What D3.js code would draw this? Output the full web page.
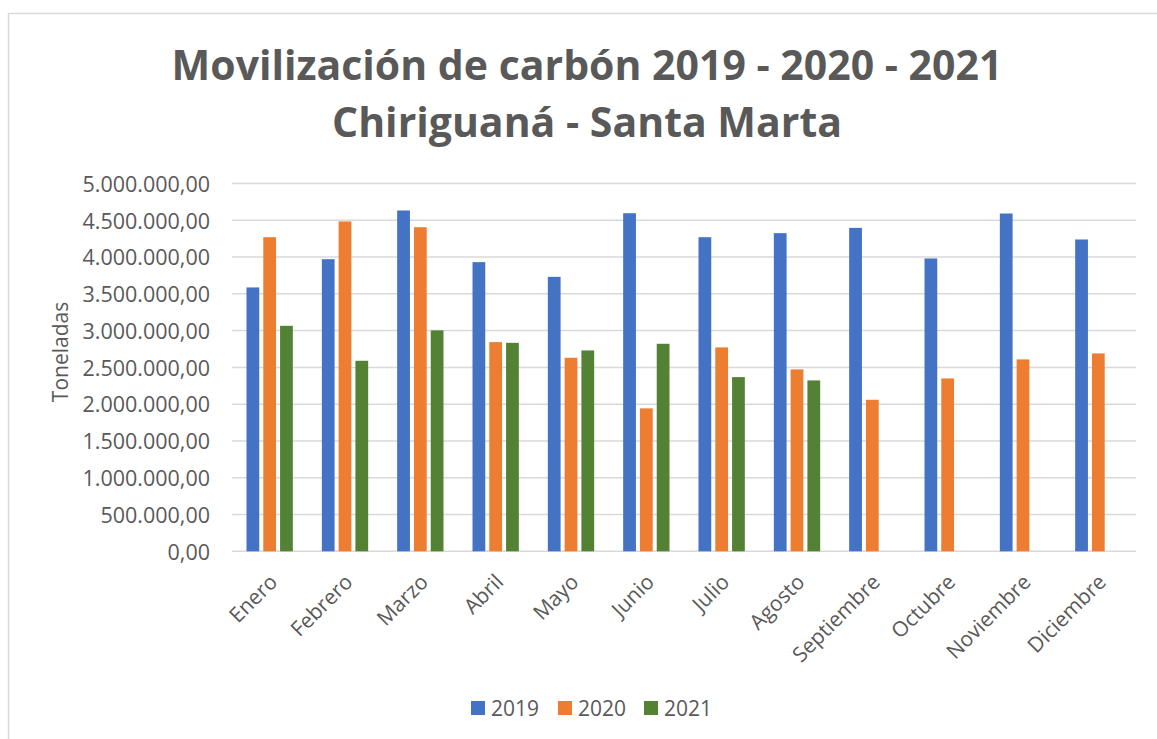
<!DOCTYPE html>
<html><head><meta charset="utf-8">
<script src="https://cdn.jsdelivr.net/npm/d3@7"></script>
<style>
html,body{margin:0;padding:0;background:#fff;}
svg text{font-family:"Open Sans",sans-serif;fill:#595959;}
</style></head>
<body>
<svg id="c" width="1157" height="739"></svg>
<script>
const months = ["Enero","Febrero","Marzo","Abril","Mayo","Junio","Julio","Agosto","Septiembre","Octubre","Noviembre","Diciembre"];
const seriesNames = ["2019","2020","2021"];
const v2019 = [3587000,3971000,4633000,3931000,3731000,4596000,4270000,4325000,4397000,3981000,4592000,4239000];
const v2020 = [4270000,4484000,4406000,2844000,2631000,1943000,2772000,2473000,2060000,2350000,2609000,2690000];
const v2021 = [3065000,2590000,3003000,2834000,2731000,2821000,2368000,2323000,null,null,null,null];
const yTicks = [0,500000,1000000,1500000,2000000,2500000,3000000,3500000,4000000,4500000,5000000];
const colors = ["#4472C4","#ED7D31","#548235"];

const svg = d3.select("#c");
// chart frame (top & left visible)
svg.append("rect").attr("x",8.5).attr("y",13.5).attr("width",1200).attr("height",800)
  .attr("fill","none").attr("stroke","#d9d9d9").attr("stroke-width",1.5);

const L=232,R=1136,T=183.5,B=551.3;
const x0 = d3.scaleBand().domain(months).range([L,R]).paddingInner(0.385).paddingOuter(0.1925);
const x1 = d3.scaleBand().domain(seriesNames).range([0,x0.bandwidth()]).paddingInner(0.24);
const y = d3.scaleLinear().domain([0,5000000]).range([B,T]);

const es = d3.formatLocale({decimal:",",thousands:".",grouping:[3],currency:["$",""]});
const fmt = es.format(",.2f");

// gridlines
svg.append("g").selectAll("line").data(yTicks).join("line")
  .attr("x1",L).attr("x2",R).attr("y1",d=>y(d)).attr("y2",d=>y(d))
  .attr("stroke","#d9d9d9").attr("stroke-width",1.5);

// y axis labels
const yAxis = d3.axisLeft(y).tickValues(yTicks).tickFormat(fmt).tickSize(0).tickPadding(22);
const ya = svg.append("g").attr("transform",`translate(${L},0)`).call(yAxis);
ya.select(".domain").remove();
ya.selectAll("text").style("font-size","21.5px").attr("fill","#595959").attr("dy","0.36em");

// bars
const series = [v2019,v2020,v2021];
const g = svg.append("g");
months.forEach((m,i)=>{
  series.forEach((s,j)=>{
    if(s[i]==null) return;
    g.append("rect")
      .attr("x",x0(m)+x1(seriesNames[j]))
      .attr("y",y(s[i]))
      .attr("width",x1.bandwidth())
      .attr("height",B-y(s[i]))
      .attr("fill",colors[j]);
  });
});

// x axis labels
const xAxis = d3.axisBottom(x0).tickSize(0).tickPadding(0);
const xa = svg.append("g").attr("transform",`translate(0,${B})`).call(xAxis);
xa.select(".domain").remove();
xa.selectAll("text").style("font-size","21px").attr("fill","#595959")
  .attr("text-anchor","end").attr("dy",0).attr("y",0)
  .attr("transform","translate(9,32) rotate(-45)");

// y title
svg.append("text").attr("transform","translate(68,352) rotate(-90)")
  .attr("text-anchor","middle").style("font-size","21px").text("Toneladas");

// title
const title = svg.append("text").attr("text-anchor","middle").style("font-size","41px").style("font-weight","bold");
title.append("tspan").attr("x",587).attr("y",80).text("Movilización de carbón 2019 - 2020 - 2021");
title.append("tspan").attr("x",587).attr("y",137).text("Chiriguaná - Santa Marta");

// legend
const lg = svg.append("g");
const lx = [471,558,644];
seriesNames.forEach((n,j)=>{
  lg.append("rect").attr("x",lx[j]).attr("y",701).attr("width",14).attr("height",14).attr("fill",colors[j]);
  lg.append("text").attr("x",lx[j]+20).attr("y",716).style("font-size","21px").text(n);
});
</script>
</body></html>
